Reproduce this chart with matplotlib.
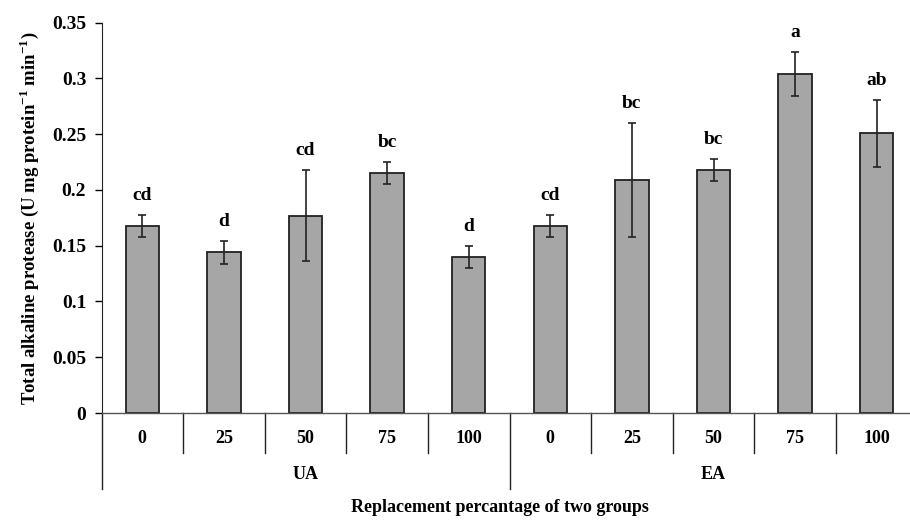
import matplotlib.pyplot as plt
import matplotlib.transforms as mtransforms
import numpy as np

# data
groups = ['UA', 'EA']
levels = ['0', '25', '50', '75', '100']
means = [0.168, 0.144, 0.177, 0.215, 0.140,
         0.168, 0.209, 0.218, 0.304, 0.251]
errors = [0.010, 0.010, 0.041, 0.010, 0.010,
          0.010, 0.051, 0.010, 0.020, 0.030]
letters = ['cd', 'd', 'cd', 'bc', 'd',
           'cd', 'bc', 'bc', 'a', 'ab']

plt.rcParams['font.family'] = 'Liberation Serif'
plt.rcParams['font.weight'] = 'bold'
plt.rcParams['mathtext.fontset'] = 'custom'
plt.rcParams['mathtext.rm'] = 'Liberation Serif:bold'
plt.rcParams['mathtext.bf'] = 'Liberation Serif:bold'

fig = plt.figure(figsize=(9.1, 5.24), dpi=100)
ax = fig.add_axes([101.5 / 910, 111 / 524, 816 / 910, 390.3 / 524])

n = len(means)
x = np.arange(n)
ax.bar(x, means, width=0.41, color='#a6a6a6', edgecolor='#222222', linewidth=1.3, zorder=2)
ax.errorbar(x, means, yerr=errors, fmt='none', ecolor='#222222', elinewidth=1.2,
            capsize=3, capthick=1.2, zorder=3)

for xi, m, e, lab in zip(x, means, errors, letters):
    ax.annotate(lab, (xi, m + e), xytext=(0, 14), textcoords='offset points',
                ha='center', va='center', fontsize=14, fontweight='bold')

ax.set_xlim(-0.5, n - 0.5)
ax.set_ylim(0, 0.35)
ax.set_yticks(np.arange(0, 0.351, 0.05))
ax.set_yticklabels(['0', '0.05', '0.1', '0.15', '0.2', '0.25', '0.3', '0.35'])
ax.tick_params(axis='y', direction='out', length=5, width=1, labelsize=14, pad=6)
ax.set_xticks([])
for s in ['top', 'right']:
    ax.spines[s].set_visible(False)
ax.spines['left'].set_color('#222222')
ax.spines['bottom'].set_color('#555555')
ax.spines['bottom'].set_linewidth(1.0)

ax.set_ylabel(r'Total alkaline protease (U mg protein$^{-1}$ min$^{-1}$)',
              fontsize=13.5, fontweight='bold', labelpad=8)

# two-level category axis below the bars
trans = mtransforms.blended_transform_factory(ax.transData, ax.transAxes)
per_group = len(levels)
for i in range(n):
    ax.text(i, -0.0666, levels[i % per_group], transform=trans, ha='center', va='center',
            fontsize=13, fontweight='bold')
for b in np.arange(-0.5, n, 1.0):
    if b in (-0.5, per_group - 0.5):
        ax.plot([b, b], [0, -0.195], transform=trans, color='#222222', lw=1.0, clip_on=False)
    else:
        ax.plot([b, b], [0, -0.102], transform=trans, color='#222222', lw=1.0, clip_on=False)
for g, name in enumerate(groups):
    cx = g * per_group + (per_group - 1) / 2
    ax.text(cx, -0.157, name, transform=trans, ha='center', va='center',
            fontsize=13, fontweight='bold')

fig.text(500 / 910, 1 - 508 / 524, 'Replacement percantage of two groups',
         ha='center', va='center', fontsize=13, fontweight='bold')

fig.savefig('out.png', dpi=100)
